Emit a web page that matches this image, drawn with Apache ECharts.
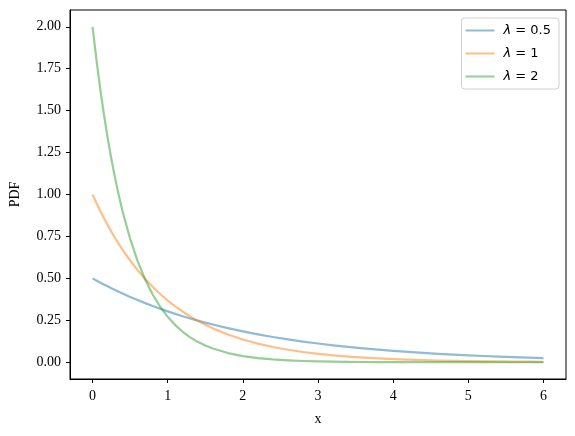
<!DOCTYPE html>
<html><head><meta charset="utf-8">
<script src="https://cdn.jsdelivr.net/npm/echarts@6/dist/echarts.min.js"></script>
<style>html,body{margin:0;padding:0;background:#fff}#c{width:575px;height:436px}</style>
</head><body><div id="c"></div>
<script>
const xs = [0,0.05,0.1,0.15,0.2,0.25,0.3,0.35,0.4,0.5,0.6,0.7,0.8,0.9,1.0,1.1,1.2,1.3,1.4,1.5,1.6,1.8,2.0,2.2,2.4,2.6,2.8,3.0,3.2,3.4,3.6,3.8,4.0,4.2,4.4,4.6,4.8,5.0,5.2,5.4,5.6,5.8,6.0];
const pdfHalf = [0.5,0.4877,0.4756,0.4639,0.4524,0.4412,0.4304,0.4197,0.4094,0.3894,0.3704,0.3523,0.3352,0.3188,0.3033,0.2885,0.2744,0.2610,0.2483,0.2362,0.2247,0.2033,0.1839,0.1664,0.1506,0.1363,0.1233,0.1116,0.1009,0.0913,0.0826,0.0748,0.0677,0.0612,0.0554,0.0501,0.0454,0.0410,0.0371,0.0336,0.0304,0.0275,0.0249];
const pdfOne = [1,0.9512,0.9048,0.8607,0.8187,0.7788,0.7408,0.7047,0.6703,0.6065,0.5488,0.4966,0.4493,0.4066,0.3679,0.3329,0.3012,0.2725,0.2466,0.2231,0.2019,0.1653,0.1353,0.1108,0.0907,0.0743,0.0608,0.0498,0.0408,0.0334,0.0273,0.0224,0.0183,0.0150,0.0123,0.0101,0.0082,0.0067,0.0055,0.0045,0.0037,0.0030,0.0025];
const pdfTwo = [2,1.8097,1.6375,1.4816,1.3406,1.2131,1.0976,0.9932,0.8987,0.7358,0.6024,0.4932,0.4038,0.3306,0.2707,0.2216,0.1814,0.1485,0.1216,0.0996,0.0815,0.0546,0.0366,0.0246,0.0165,0.0110,0.0074,0.0050,0.0033,0.0022,0.0015,0.0010,0.0007,0.0004,0.0003,0.0002,0.0001,0.0001,0.0001,0.0000,0.0000,0.0000,0.0000];
const names = ['λ = 0.5','λ = 1','λ = 2'];
const xTicks = [0,1,2,3,4,5,6];
const yTicks = [0,0.25,0.5,0.75,1.0,1.25,1.5,1.75,2.0];
const colors = ['rgba(31,119,180,0.5)','rgba(255,127,14,0.5)','rgba(44,160,44,0.5)'];

const serif = '"Liberation Serif", "DejaVu Serif", serif';
const pair = arr => xs.map((x,i)=>[x,arr[i]]);
const chart = echarts.init(document.getElementById('c'), null, {renderer:'canvas'});
const axisCommon = {
  axisLine:{show:true,onZero:false,lineStyle:{color:'#000',width:1}},
  axisTick:{show:true,inside:false,length:4,lineStyle:{color:'#000',width:1}},
  splitLine:{show:false},
  nameTextStyle:{fontFamily:serif,fontSize:14,color:'#000'}
};
chart.setOption({
  animation:false,
  grid:{left:70,right:9,top:10,bottom:57,show:true,borderColor:'#000',borderWidth:1,containLabel:false},
  legend:{
    orient:'vertical', right:16, top:18,
    data:names.map((n,i)=>({name:n,icon:'rect',itemStyle:{color:colors[i]}})),
    itemWidth:29, itemHeight:2, itemGap:10,
    padding:[6,8,6,4],
    borderColor:'#d0d0d0', borderWidth:1, borderRadius:3, backgroundColor:'rgba(255,255,255,0.8)',
    textStyle:{fontFamily:'"DejaVu Sans"',fontSize:13,color:'#000',padding:[0,0,0,4],
      rich:{i:{fontFamily:'"DejaVu Sans"',fontStyle:'italic',fontSize:13,color:'#000'}}},
    formatter: n => n.replace('λ','{i|λ}')
  },
  xAxis:Object.assign({type:'value',min:-0.3,max:6.3,name:'x',nameLocation:'middle',nameGap:33,
    axisLabel:{customValues:xTicks,margin:10,fontFamily:serif,fontSize:14,color:'#000'},
  },axisCommon,{axisTick:Object.assign({},axisCommon.axisTick,{customValues:xTicks})}),
  yAxis:Object.assign({type:'value',min:-0.1,max:2.1,name:'PDF',nameLocation:'middle',nameGap:48,
    axisLabel:{customValues:yTicks,margin:9,fontFamily:serif,fontSize:14,color:'#000',formatter:v=>v.toFixed(2)},
  },axisCommon,{axisTick:Object.assign({},axisCommon.axisTick,{customValues:yTicks})}),
  series:[pdfHalf,pdfOne,pdfTwo].map((d,i)=>({
    name:names[i],type:'line',data:pair(d),showSymbol:false,symbol:'none',
    smooth:false,
    lineStyle:{color:colors[i],width:2.2,join:'round',cap:'butt'},itemStyle:{color:colors[i]}
  }))
});
</script></body></html>
